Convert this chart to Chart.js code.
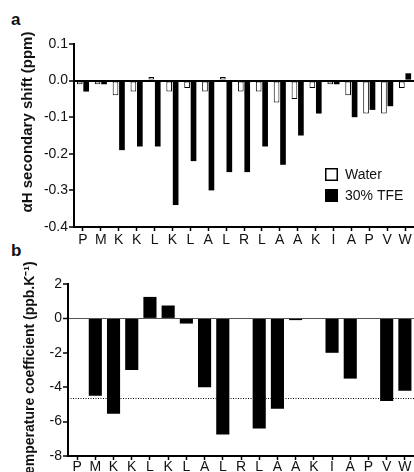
<!DOCTYPE html>
<html>
<head>
<meta charset="utf-8">
<script src="https://cdn.jsdelivr.net/npm/chart.js@4/dist/chart.umd.min.js"></script>
<style>
  html, body { margin: 0; padding: 0; background: #fff; }
  body { width: 414px; height: 472px; overflow: hidden; position: relative; font-family: "Liberation Sans", Arial, sans-serif; }
  canvas { position: absolute; left: 0; }
  #chartA { top: 0; }
  #chartB { top: 250px; }
  .panel { position: absolute; font-weight: bold; font-size: 17px; color: #111; }
</style>
</head>
<body>
<div class="panel" style="left:11px;top:10px">a</div>
<div class="panel" style="left:11px;top:241px">b</div>
<canvas id="chartA" width="414" height="250"></canvas>
<canvas id="chartB" width="414" height="230"></canvas>
<script>
const residues = ['P','M','K','K','L','K','L','A','L','R','L','A','A','K','I','A','P','V','W'];

// panel a: alpha-H secondary shift (ppm)
const waterShift = [-0.01,-0.01,-0.04,-0.03,0.01,-0.03,-0.02,-0.03,0.01,-0.03,-0.03,-0.06,-0.05,-0.02,-0.01,-0.04,-0.09,-0.09,-0.02];
const tfeShift = [-0.03,-0.01,-0.19,-0.18,-0.18,-0.34,-0.22,-0.30,-0.25,-0.25,-0.18,-0.23,-0.15,-0.09,-0.01,-0.10,-0.08,-0.07,0.02];

// panel b: temperature coefficient (ppb/K), gaps where no value
const tempCoef = [null,-4.5,-5.55,-3.0,1.25,0.75,-0.3,-4.0,-6.75,null,-6.4,-5.25,-0.1,null,-2.0,-3.5,null,-4.8,-4.2];
const coefCutoff = -4.6;

const titleA = 'αH secondary shift (ppm)';
const titleB = 'temperature coefficient (ppb.K⁻¹)';

const FONT = '"Liberation Sans", Arial, sans-serif';
const INK = '#111';

// rotated y title drawn at a fixed spot
const sideTitle = {
    id: 'sideTitle',
    afterDraw(chart, args, opts) {
        const ctx = chart.ctx;
        ctx.save();
        ctx.translate(opts.x, opts.y);
        ctx.rotate(-Math.PI / 2);
        ctx.font = 'bold ' + opts.size + 'px ' + FONT;
        ctx.fillStyle = INK;
        ctx.textAlign = 'center';
        ctx.textBaseline = 'middle';
        ctx.fillText(opts.text, 0, 0);
        ctx.restore();
    }
};

const boxLegend = {
    id: 'boxLegend',
    afterDraw(chart, args, opts) {
        if (!opts.show) return;
        const ctx = chart.ctx;
        ctx.save();
        ctx.font = '14px ' + FONT;
        ctx.textBaseline = 'middle';
        chart.data.datasets.forEach((ds, i) => {
            const y = opts.y + i * 21;
            ctx.fillStyle = ds.backgroundColor;
            ctx.fillRect(opts.x, y, 13, 13);
            ctx.lineWidth = 1.5;
            ctx.strokeStyle = '#000';
            ctx.strokeRect(opts.x + 0.75, y + 0.75, 11.5, 11.5);
            ctx.fillStyle = INK;
            ctx.fillText(ds.label, opts.x + 20, y + 7);
        });
        ctx.restore();
    }
};

const cutoffLine = {
    id: 'cutoffLine',
    afterDatasetsDraw(chart, args, opts) {
        if (opts.value === undefined) return;
        const ctx = chart.ctx;
        const y = Math.round(chart.scales.y.getPixelForValue(opts.value)) + 0.5;
        ctx.save();
        ctx.strokeStyle = '#000';
        ctx.lineWidth = 1;
        ctx.setLineDash([1, 1.5]);
        ctx.beginPath();
        ctx.moveTo(chart.chartArea.left, y);
        ctx.lineTo(chart.chartArea.right, y);
        ctx.stroke();
        ctx.restore();
    }
};

function axes(yMin, yMax, step, yWidth, zeroColor, zeroWidth, fmt, xPad) {
    return {
        x: {
            offset: true,
            grid: { drawOnChartArea: false, offset: false, tickLength: 4, tickColor: '#000', tickWidth: 1.5 },
            border: { color: '#000', width: 2 },
            ticks: { color: INK, font: { family: FONT, size: 14 }, padding: xPad, maxRotation: 0, autoSkip: false },
            afterFit(scale) { scale.height = 18; }
        },
        y: {
            min: yMin, max: yMax,
            grid: {
                color: c => Math.abs(c.tick.value) < 1e-9 ? zeroColor : 'rgba(0,0,0,0)',
                lineWidth: c => Math.abs(c.tick.value) < 1e-9 ? zeroWidth : 0,
                tickLength: 5, tickColor: '#000', tickWidth: 1.5
            },
            border: { color: '#000', width: 2 },
            ticks: { stepSize: step, color: INK, font: { family: FONT, size: 14 }, padding: 1, callback: fmt },
            afterFit(scale) { scale.width = yWidth; }
        }
    };
}

new Chart(document.getElementById('chartA'), {
    type: 'bar',
    data: {
        labels: residues,
        datasets: [{
            label: 'Water',
            data: waterShift,
            backgroundColor: '#ffffff',
            borderColor: '#000',
            borderWidth: 1,
            borderSkipped: false
        }, {
            label: '30% TFE',
            data: tfeShift,
            backgroundColor: '#000000',
            borderWidth: 0
        }]
    },
    options: {
        responsive: false,
        animation: false,
        categoryPercentage: 0.72,
        barPercentage: 0.88,
        layout: { padding: { top: 44, left: 0, right: 0, bottom: 5 } },
        plugins: {
            legend: { display: false },
            tooltip: { enabled: false },
            sideTitle: { text: titleA, x: 28, y: 122, size: 15 },
            boxLegend: { show: true, x: 325, y: 168 }
        },
        scales: axes(-0.4, 0.1, 0.1, 74, '#000', 2, v => v.toFixed(1), 1)
    },
    plugins: [sideTitle, boxLegend]
});

new Chart(document.getElementById('chartB'), {
    type: 'bar',
    data: {
        labels: residues,
        datasets: [{
            label: 'temperature coefficient',
            data: tempCoef,
            backgroundColor: '#000000',
            borderWidth: 0
        }]
    },
    options: {
        responsive: false,
        animation: false,
        categoryPercentage: 1,
        barPercentage: 0.72,
        layout: { padding: { top: 34, left: 0, right: 0, bottom: 6 } },
        plugins: {
            legend: { display: false },
            tooltip: { enabled: false },
            sideTitle: { text: titleB, x: 30, y: 120, size: 14 },
            cutoffLine: { value: coefCutoff }
        },
        scales: axes(-8, 2, 2, 68, '#555', 1, v => String(v), -1)
    },
    plugins: [sideTitle, cutoffLine]
});
</script>
</body>
</html>
